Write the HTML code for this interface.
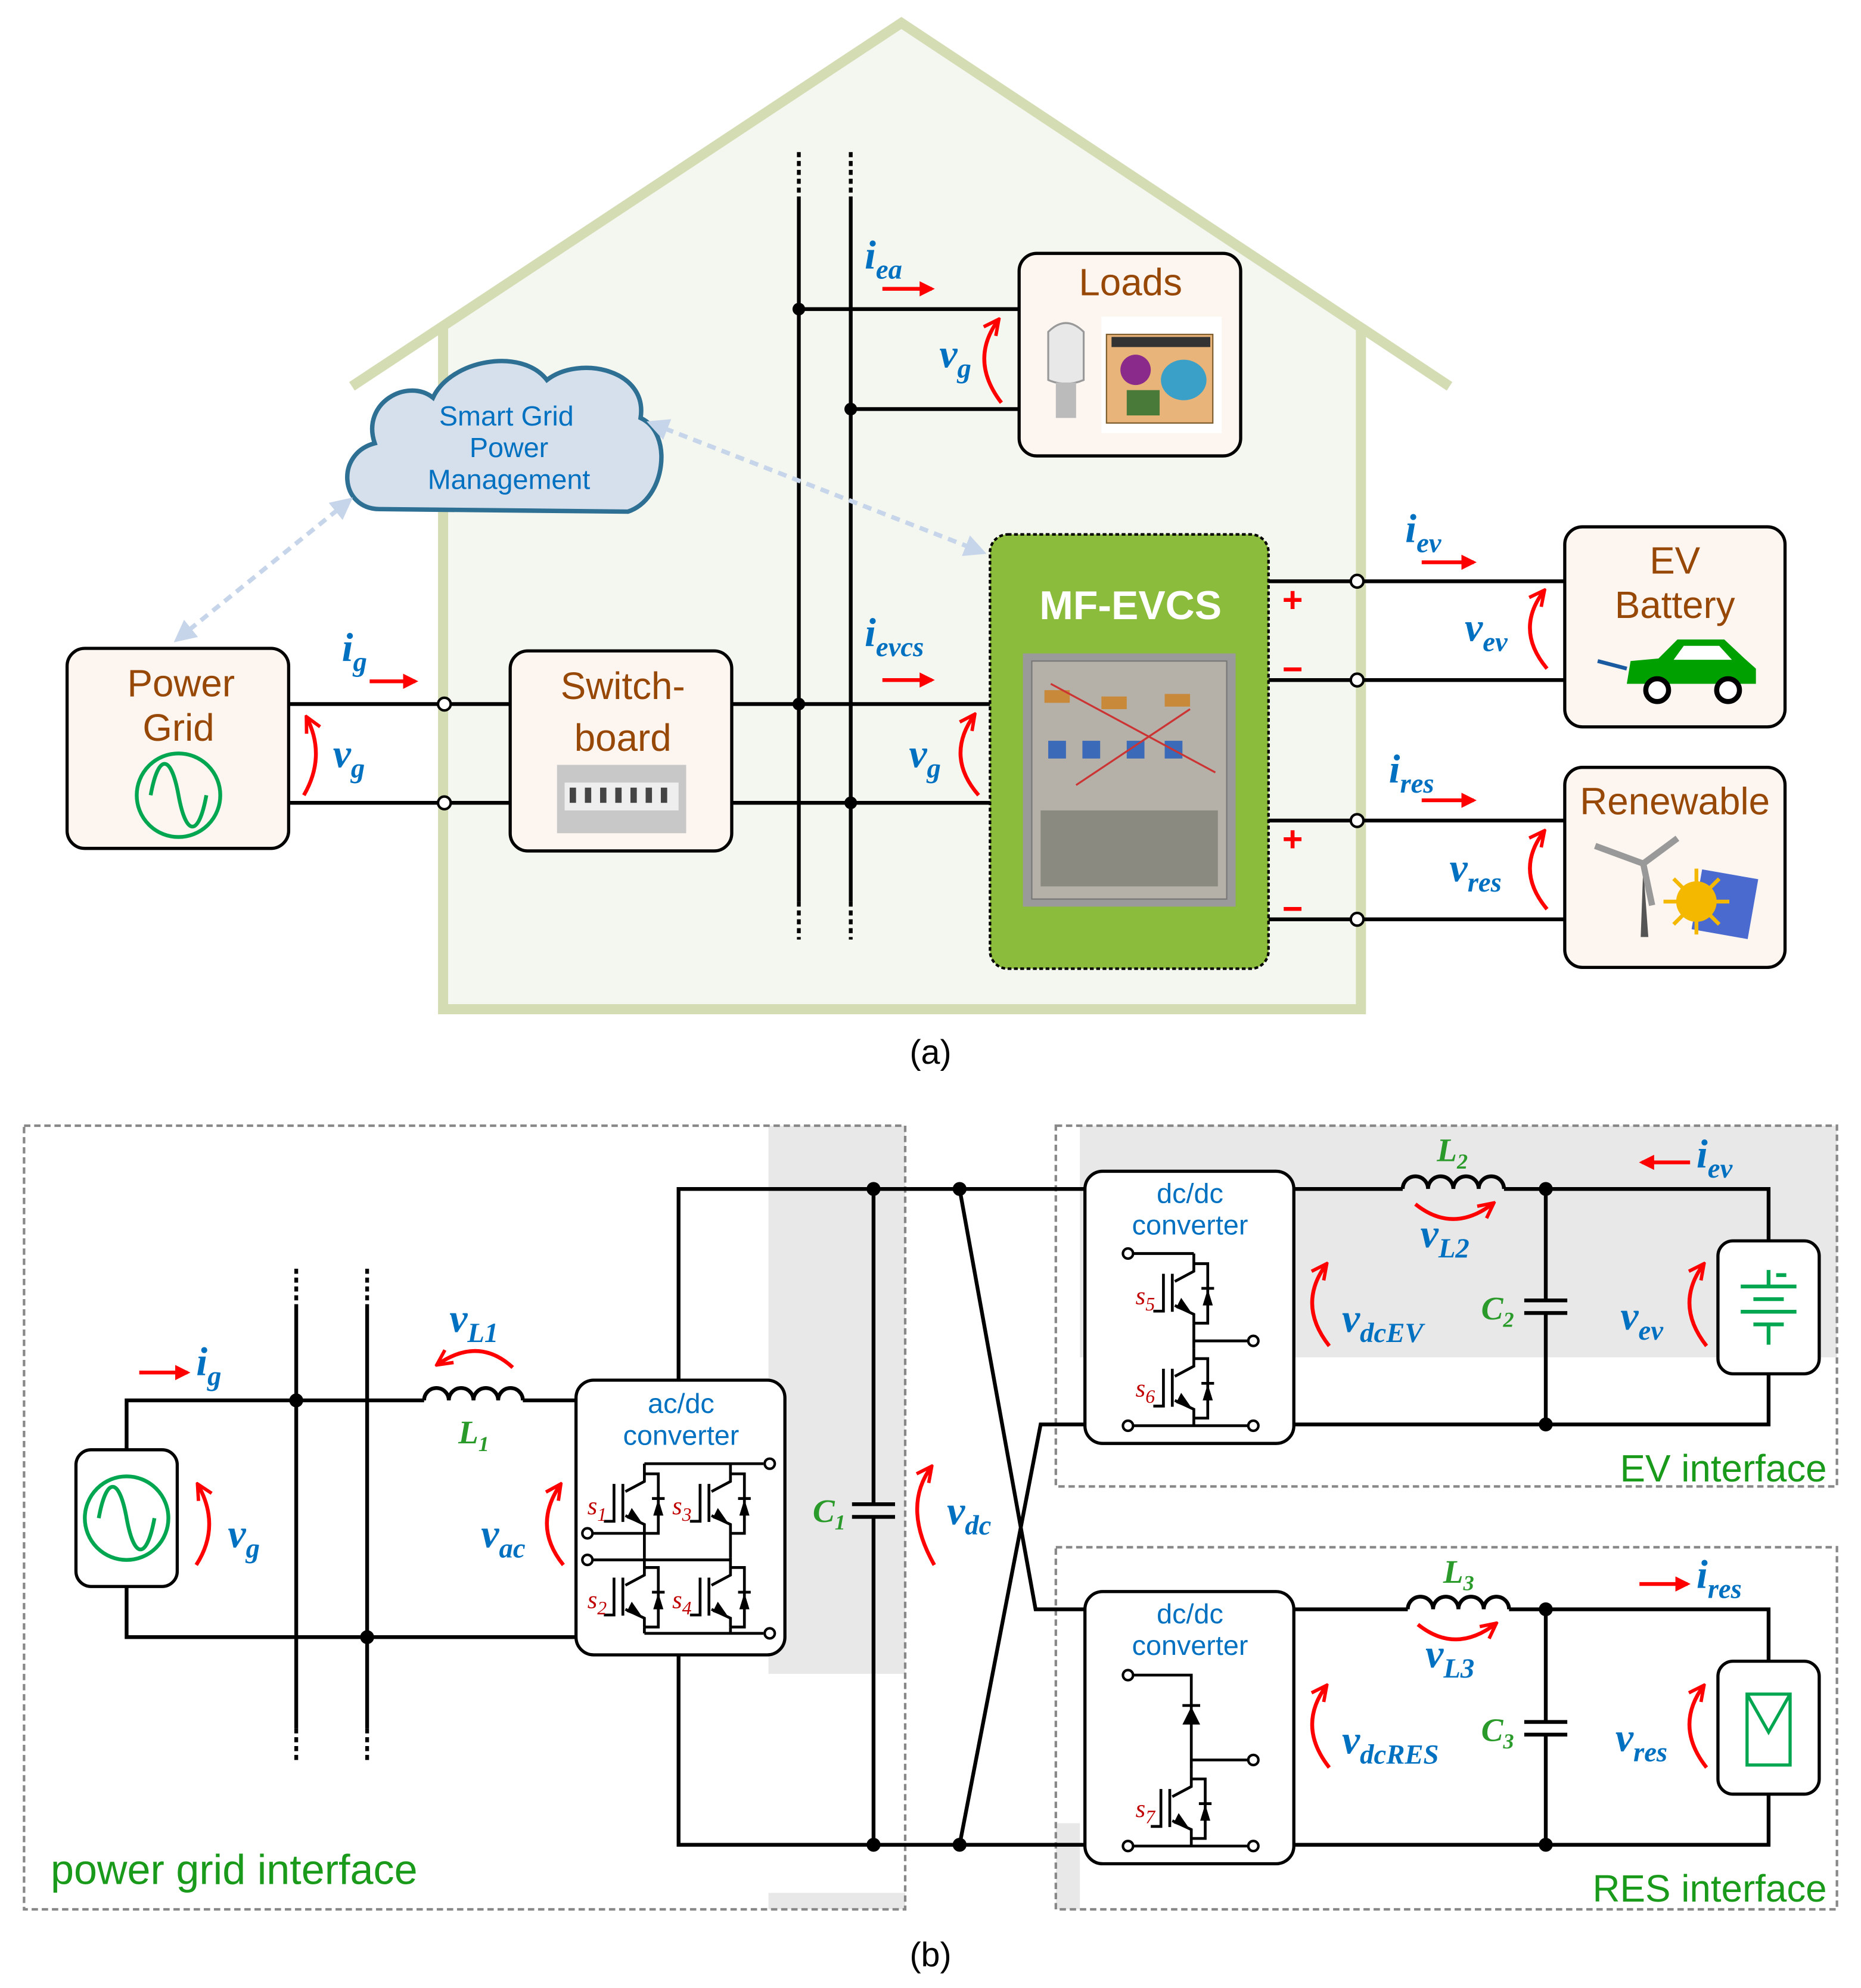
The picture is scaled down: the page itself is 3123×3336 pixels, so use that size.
<!DOCTYPE html>
<html><head><meta charset="utf-8"><style>
html,body{margin:0;padding:0;background:#fff}
svg{display:block}
.t{font-family:"Liberation Sans",sans-serif}
.m{font-family:"Liberation Serif",serif;font-weight:bold;font-style:italic;fill:#0070c0;font-size:32px}
.s{font-size:22px}
.br{fill:#974806;font-size:30px;text-anchor:middle}
.bl{fill:#0070c0;font-size:22px;text-anchor:middle}
.gn{font-family:"Liberation Serif",serif;font-weight:bold;font-style:italic;fill:#2a9a2a;font-size:26px}
.sw{font-family:"Liberation Serif",serif;font-style:italic;fill:#c00000;font-size:20px}
</style></head><body>
<svg width="3123" height="3336" viewBox="0 0 1470 1570" xmlns="http://www.w3.org/2000/svg">
<defs>
<marker id="ar" viewBox="0 0 10 10" refX="8" refY="5" markerWidth="4" markerHeight="4" orient="auto"><path d="M0,0 L10,5 L0,10 Z" fill="#f00"/></marker>
<marker id="av" viewBox="0 0 10 10" refX="9" refY="5" markerWidth="5" markerHeight="5" orient="auto"><path d="M1,1 L9,5 L1,9" fill="none" stroke="#f00" stroke-width="1.8"/></marker>
<marker id="lb" viewBox="0 0 10 10" refX="8" refY="5" markerWidth="5" markerHeight="5" orient="auto-start-reverse"><path d="M0,0 L10,5 L0,10 Z" fill="#c7d5ea"/></marker>
<g id="igbt">
<path d="M0,0 V14 L-15,22 M-17,16 V46 M-24,16 V45.5 H-32 M-15,41 L0,48 V55 M0,8 H11 V55 H0" stroke="#000" stroke-width="2.2" fill="none"/>
<path d="M-14,43 L-10,35 L-1,48 Z" fill="#000"/>
<path d="M7,41 H15 L11,28 Z" fill="#000"/>
<path d="M6,27.5 H16" stroke="#000" stroke-width="2.2"/>
</g>
</defs>

<!-- ================= (a) ================= -->
<polygon points="350,257 712,18 1075,257 1075,797 350,797" fill="#f4f7ef"/>
<polyline points="278,305 712,18 1145,305" fill="none" stroke="#d4dcb4" stroke-width="8"/>
<polyline points="350,257 350,797 1075,797 1075,257" fill="none" stroke="#d4dcb4" stroke-width="8"/>

<g stroke="#000" stroke-width="3">
<line x1="631" y1="155" x2="631" y2="712"/><line x1="672" y1="155" x2="672" y2="712"/>
<line x1="631" y1="120" x2="631" y2="155" stroke-dasharray="4,3"/><line x1="672" y1="120" x2="672" y2="155" stroke-dasharray="4,3"/>
<line x1="631" y1="712" x2="631" y2="742" stroke-dasharray="4,3"/><line x1="672" y1="712" x2="672" y2="742" stroke-dasharray="4,3"/>
<line x1="631" y1="244" x2="805" y2="244"/><line x1="672" y1="323" x2="805" y2="323"/>
<line x1="228" y1="556" x2="403" y2="556"/><line x1="228" y1="634" x2="403" y2="634"/>
<line x1="578" y1="556" x2="782" y2="556"/><line x1="578" y1="634" x2="782" y2="634"/>
<line x1="1002" y1="459" x2="1236" y2="459"/><line x1="1002" y1="537" x2="1236" y2="537"/>
<line x1="1002" y1="648" x2="1236" y2="648"/><line x1="1002" y1="726" x2="1236" y2="726"/>
</g>
<g fill="#000"><circle cx="631" cy="244" r="5"/><circle cx="672" cy="323" r="5"/><circle cx="631" cy="556" r="5"/><circle cx="672" cy="634" r="5"/></g>
<g fill="#fff" stroke="#000" stroke-width="2"><circle cx="351" cy="556" r="5"/><circle cx="351" cy="634" r="5"/>
<circle cx="1072" cy="459" r="5"/><circle cx="1072" cy="537" r="5"/><circle cx="1072" cy="648" r="5"/><circle cx="1072" cy="726" r="5"/></g>

<rect x="805" y="200" width="175" height="160" rx="14" fill="#fdf6f0" stroke="#000" stroke-width="2.5"/>
<text x="893" y="233" class="t br">Loads</text>
<path d="M828,262 Q842,248 856,262 L856,300 Q842,306 828,300 Z" fill="#e8e8e8" stroke="#999" stroke-width="1.5"/>
<rect x="834" y="302" width="16" height="28" fill="#bbb"/>
<rect x="870" y="250" width="95" height="92" fill="#fff"/>
<rect x="874" y="264" width="84" height="70" fill="#e8b47a" stroke="#7a5a2a"/>
<rect x="878" y="266" width="78" height="8" fill="#333"/>
<circle cx="897" cy="292" r="12" fill="#8a2a8a"/>
<ellipse cx="935" cy="300" rx="18" ry="16" fill="#3aa0c8"/>
<rect x="890" y="308" width="26" height="20" fill="#4a7a3a"/>

<path d="M300,402 C268,402 265,358 296,350 C285,318 322,298 342,314 C356,284 412,274 432,300 C458,280 512,292 506,330 C532,342 526,394 496,404 Z" fill="#d5e0ec" stroke="#2e6f94" stroke-width="3.5"/>
<text x="400" y="336" class="t bl">Smart Grid</text>
<text x="402" y="361" class="t bl">Power</text>
<text x="402" y="386" class="t bl">Management</text>
<line x1="140" y1="505" x2="276" y2="395" stroke="#c7d5ea" stroke-width="3.5" stroke-dasharray="7,5" marker-start="url(#lb)" marker-end="url(#lb)"/>
<line x1="514" y1="334" x2="776" y2="436" stroke="#c7d5ea" stroke-width="3.5" stroke-dasharray="7,5" marker-start="url(#lb)" marker-end="url(#lb)"/>

<rect x="53" y="512" width="175" height="158" rx="14" fill="#fdf6f0" stroke="#000" stroke-width="2.5"/>
<text x="143" y="550" class="t br">Power</text>
<text x="141" y="585" class="t br">Grid</text>
<circle cx="141" cy="628" r="33" fill="none" stroke="#00a650" stroke-width="3"/>
<path d="M119,628 C125,595 135,595 141,628 C147,661 157,661 163,628" fill="none" stroke="#00a650" stroke-width="3"/>

<rect x="403" y="514" width="175" height="158" rx="14" fill="#fdf6f0" stroke="#000" stroke-width="2.5"/>
<text x="492" y="552" class="t br">Switch-</text>
<text x="492" y="593" class="t br">board</text>
<rect x="440" y="604" width="102" height="54" fill="#c8c8c8"/>
<rect x="446" y="618" width="90" height="22" fill="#eee"/>
<g fill="#444"><rect x="450" y="622" width="5" height="12"/><rect x="462" y="622" width="5" height="12"/><rect x="474" y="622" width="5" height="12"/><rect x="486" y="622" width="5" height="12"/><rect x="498" y="622" width="5" height="12"/><rect x="510" y="622" width="5" height="12"/><rect x="522" y="622" width="5" height="12"/></g>

<rect x="782" y="422" width="220" height="343" rx="14" fill="#8cbc3b" stroke="#000" stroke-width="2" stroke-dasharray="3,2"/>
<text x="893" y="489" class="t" style="font-size:32px;font-weight:bold;fill:#fff;text-anchor:middle">MF-EVCS</text>
<rect x="808" y="516" width="168" height="200" fill="#9a9a9a"/>
<rect x="815" y="522" width="154" height="188" fill="#b5b0a8" stroke="#777"/>
<g fill="#3a6ab8"><rect x="828" y="585" width="14" height="14"/><rect x="855" y="585" width="14" height="14"/><rect x="890" y="585" width="14" height="14"/><rect x="920" y="585" width="14" height="14"/></g>
<g fill="#c88a3a"><rect x="825" y="545" width="20" height="10"/><rect x="870" y="550" width="20" height="10"/><rect x="920" y="548" width="20" height="10"/></g>
<rect x="822" y="640" width="140" height="60" fill="#8a8a80"/>
<path d="M830,540 L960,610 M850,620 L940,560" stroke="#c33" stroke-width="1.5"/>

<rect x="1236" y="416" width="174" height="158" rx="14" fill="#fdf6f0" stroke="#000" stroke-width="2.5"/>
<text x="1323" y="453" class="t br">EV</text>
<text x="1323" y="488" class="t br">Battery</text>
<path d="M1285,540 L1288,522 L1310,520 L1325,505 L1362,505 L1378,520 L1387,528 L1387,540 Z" fill="#00a000"/>
<path d="M1330,510 L1358,510 L1368,521 L1322,521 Z" fill="#fff"/>
<circle cx="1309" cy="545" r="9" fill="#fff" stroke="#000" stroke-width="4"/>
<circle cx="1365" cy="545" r="9" fill="#fff" stroke="#000" stroke-width="4"/>
<path d="M1262,522 L1285,528" stroke="#1a5aa0" stroke-width="3"/>

<rect x="1236" y="606" width="174" height="158" rx="14" fill="#fdf6f0" stroke="#000" stroke-width="2.5"/>
<text x="1323" y="643" class="t br">Renewable</text>
<path d="M1298,685 L1296,740 L1302,740 Z" fill="#555"/>
<path d="M1298,682 L1260,668 M1298,682 L1305,715 M1298,682 L1325,662" stroke="#999" stroke-width="5"/>
<rect x="1340" y="690" width="45" height="48" fill="#4a6ad0" transform="rotate(10 1362 714)"/>
<circle cx="1340" cy="712" r="16" fill="#f5b800"/>
<g stroke="#f5b800" stroke-width="3"><line x1="1340" y1="686" x2="1340" y2="738"/><line x1="1314" y1="712" x2="1366" y2="712"/><line x1="1322" y1="694" x2="1358" y2="730"/><line x1="1358" y1="694" x2="1322" y2="730"/></g>

<g class="t" style="fill:#f00;font-size:28px;font-weight:bold;text-anchor:middle">
<text x="1021" y="483">+</text><text x="1021" y="538">−</text><text x="1021" y="672">+</text><text x="1021" y="727">−</text></g>

<g stroke="#f00" stroke-width="3" fill="none">
<line x1="697" y1="228" x2="736" y2="228" marker-end="url(#ar)"/>
<line x1="292" y1="538" x2="328" y2="538" marker-end="url(#ar)"/>
<line x1="697" y1="537" x2="736" y2="537" marker-end="url(#ar)"/>
<line x1="1123" y1="444" x2="1164" y2="444" marker-end="url(#ar)"/>
<line x1="1123" y1="632" x2="1164" y2="632" marker-end="url(#ar)"/>
<path d="M791,318 Q765,284 789,252" marker-end="url(#av)"/>
<path d="M240,628 Q258,597 242,566" marker-end="url(#av)"/>
<path d="M773,628 Q746,597 770,564" marker-end="url(#av)"/>
<path d="M1222,528 Q1196,497 1220,466" marker-end="url(#av)"/>
<path d="M1222,718 Q1196,687 1220,656" marker-end="url(#av)"/>
</g>
<text x="683" y="212" class="m">i<tspan class="s" dy="8">ea</tspan></text>
<text x="742" y="290" class="m">v<tspan class="s" dy="8">g</tspan></text>
<text x="270" y="522" class="m">i<tspan class="s" dy="8">g</tspan></text>
<text x="263" y="606" class="m">v<tspan class="s" dy="8">g</tspan></text>
<text x="683" y="510" class="m">i<tspan class="s" dy="8">evcs</tspan></text>
<text x="718" y="606" class="m">v<tspan class="s" dy="8">g</tspan></text>
<text x="1110" y="428" class="m">i<tspan class="s" dy="8">ev</tspan></text>
<text x="1157" y="506" class="m">v<tspan class="s" dy="8">ev</tspan></text>
<text x="1097" y="618" class="m">i<tspan class="s" dy="8">res</tspan></text>
<text x="1145" y="696" class="m">v<tspan class="s" dy="8">res</tspan></text>
<text x="735" y="840" class="t" style="font-size:27px;text-anchor:middle">(a)</text>

<!-- ================= (b) ================= -->
<rect x="607" y="889" width="108" height="433" fill="#e8e8e8"/>
<rect x="607" y="1495" width="108" height="13" fill="#e8e8e8"/>
<rect x="853" y="889" width="598" height="183" fill="#e8e8e8"/>
<rect x="834" y="1440" width="19" height="68" fill="#e8e8e8"/>
<g fill="none" stroke="#888" stroke-width="2" stroke-dasharray="5,3">
<rect x="19" y="889" width="696" height="619"/>
<rect x="834" y="889" width="617" height="285"/>
<rect x="834" y="1222" width="617" height="286"/>
</g>

<g stroke="#000" stroke-width="3" fill="none">
<path d="M100,1145 V1106 H335 M413,1106 H455 M100,1253 V1293 H455"/>
<path d="M335,1106 a9.75,9.75 0 0 1 19.5,0 a9.75,9.75 0 0 1 19.5,0 a9.75,9.75 0 0 1 19.5,0 a9.75,9.75 0 0 1 19.5,0"/>
<line x1="234" y1="1030" x2="234" y2="1365"/><line x1="290" y1="1030" x2="290" y2="1365"/>
<line x1="234" y1="1002" x2="234" y2="1030" stroke-dasharray="4,3"/><line x1="290" y1="1002" x2="290" y2="1030" stroke-dasharray="4,3"/>
<line x1="234" y1="1365" x2="234" y2="1392" stroke-dasharray="4,3"/><line x1="290" y1="1365" x2="290" y2="1392" stroke-dasharray="4,3"/>
<path d="M536,1090 V939 H857 M536,1307 V1457 H857"/>
<path d="M690,939 V1188 M690,1198 V1457 M673,1188 H707 M673,1198 H707"/>
<path d="M758,939 L818,1271 H857 M758,1457 L822,1125 H857"/>
<path d="M1022,939 H1108 M1188,939 H1397 V980 M1397,1085 V1125 H1022"/>
<path d="M1108,939 a10,10 0 0 1 20,0 a10,10 0 0 1 20,0 a10,10 0 0 1 20,0 a10,10 0 0 1 20,0"/>
<path d="M1221,939 V1027 M1221,1037 V1125 M1204,1027 H1238 M1204,1037 H1238"/>
<path d="M1022,1271 H1112 M1192,1271 H1397 V1312 M1397,1417 V1457 H1022"/>
<path d="M1112,1271 a10,10 0 0 1 20,0 a10,10 0 0 1 20,0 a10,10 0 0 1 20,0 a10,10 0 0 1 20,0"/>
<path d="M1221,1271 V1360 M1221,1370 V1457 M1204,1360 H1238 M1204,1370 H1238"/>
</g>
<g fill="#000">
<circle cx="234" cy="1106" r="5.5"/><circle cx="290" cy="1293" r="5.5"/>
<circle cx="690" cy="939" r="5.5"/><circle cx="690" cy="1457" r="5.5"/>
<circle cx="758" cy="939" r="5.5"/><circle cx="758" cy="1457" r="5.5"/>
<circle cx="1221" cy="939" r="5.5"/><circle cx="1221" cy="1125" r="5.5"/>
<circle cx="1221" cy="1271" r="5.5"/><circle cx="1221" cy="1457" r="5.5"/>
</g>

<rect x="60" y="1145" width="80" height="108" rx="12" fill="#fff" stroke="#000" stroke-width="2.5"/>
<circle cx="100" cy="1199" r="33" fill="none" stroke="#00a650" stroke-width="3"/>
<path d="M78,1199 C84,1166 94,1166 100,1199 C106,1232 116,1232 122,1199" fill="none" stroke="#00a650" stroke-width="3"/>

<rect x="455" y="1090" width="165" height="217" rx="14" fill="#fff" stroke="#000" stroke-width="2.5"/>
<text x="538" y="1116" class="t bl">ac/dc</text>
<text x="538" y="1141" class="t bl">converter</text>
<use href="#igbt" x="509" y="1156"/><use href="#igbt" x="577" y="1156"/>
<use href="#igbt" x="509" y="1230"/><use href="#igbt" x="577" y="1230"/>
<g stroke="#000" stroke-width="2.2" fill="none">
<path d="M509,1156 H603 M509,1211 V1230 M577,1211 V1230 M468,1211 H509 M468,1232 H577 M509,1285 V1290 M577,1285 V1290 M509,1290 H603"/>
</g>
<g fill="#fff" stroke="#000" stroke-width="2"><circle cx="608" cy="1156" r="4"/><circle cx="608" cy="1290" r="4"/><circle cx="464" cy="1211" r="4"/><circle cx="464" cy="1232" r="4"/></g>
<text x="464" y="1196" class="sw">s<tspan font-size="15" dy="5">1</tspan></text>
<text x="531" y="1196" class="sw">s<tspan font-size="15" dy="5">3</tspan></text>
<text x="464" y="1270" class="sw">s<tspan font-size="15" dy="5">2</tspan></text>
<text x="531" y="1270" class="sw">s<tspan font-size="15" dy="5">4</tspan></text>

<rect x="857" y="925" width="165" height="215" rx="14" fill="#fff" stroke="#000" stroke-width="2.5"/>
<text x="940" y="950" class="t bl">dc/dc</text>
<text x="940" y="975" class="t bl">converter</text>
<use href="#igbt" x="943" y="990"/><use href="#igbt" x="943" y="1065"/>
<g stroke="#000" stroke-width="2.2" fill="none"><path d="M895,990 H943 M943,1045 V1065 M943,1059 H986 M943,1120 V1126 M895,1126 H986"/></g>
<g fill="#fff" stroke="#000" stroke-width="2"><circle cx="891" cy="990" r="4"/><circle cx="990" cy="1059" r="4"/><circle cx="891" cy="1126" r="4"/><circle cx="990" cy="1126" r="4"/></g>
<text x="897" y="1030" class="sw">s<tspan font-size="15" dy="5">5</tspan></text>
<text x="897" y="1103" class="sw">s<tspan font-size="15" dy="5">6</tspan></text>

<rect x="857" y="1257" width="165" height="215" rx="14" fill="#fff" stroke="#000" stroke-width="2.5"/>
<text x="940" y="1282" class="t bl">dc/dc</text>
<text x="940" y="1307" class="t bl">converter</text>
<use href="#igbt" x="941" y="1397"/>
<g stroke="#000" stroke-width="2.2" fill="none"><path d="M895,1323 H941 V1397 M941,1390 H986 M941,1452 V1458 M895,1458 H986 M934,1347 H948"/></g>
<path d="M934,1362 H948 L941,1348 Z" fill="#000"/>
<g fill="#fff" stroke="#000" stroke-width="2"><circle cx="891" cy="1323" r="4"/><circle cx="990" cy="1390" r="4"/><circle cx="891" cy="1458" r="4"/><circle cx="990" cy="1458" r="4"/></g>
<text x="897" y="1435" class="sw">s<tspan font-size="15" dy="5">7</tspan></text>

<rect x="1357" y="980" width="80" height="105" rx="12" fill="#fff" stroke="#000" stroke-width="2.5"/>
<g stroke="#00a650" stroke-width="3"><path d="M1397,1003 V1016 M1375,1016 H1419 M1385,1026 H1409 M1375,1036 H1419 M1385,1046 H1409 M1397,1046 V1062 M1403,1007 H1411"/></g>
<rect x="1357" y="1312" width="80" height="105" rx="12" fill="#fff" stroke="#000" stroke-width="2.5"/>
<rect x="1380" y="1338" width="34" height="56" fill="none" stroke="#00a650" stroke-width="2.5"/>
<path d="M1380,1338 L1397,1368 L1414,1338" fill="none" stroke="#00a650" stroke-width="2.5"/>

<g stroke="#f00" stroke-width="3" fill="none">
<line x1="110" y1="1084" x2="148" y2="1084" marker-end="url(#ar)"/>
<line x1="1335" y1="918" x2="1297" y2="918" marker-end="url(#ar)"/>
<line x1="1295" y1="1251" x2="1333" y2="1251" marker-end="url(#ar)"/>
<path d="M405,1080 Q378,1055 345,1078" marker-end="url(#av)"/>
<path d="M1118,951 Q1148,975 1180,950" marker-end="url(#av)"/>
<path d="M1120,1283 Q1150,1307 1182,1282" marker-end="url(#av)"/>
<path d="M155,1236 Q175,1205 156,1172" marker-end="url(#av)"/>
<path d="M445,1236 Q420,1205 443,1172" marker-end="url(#av)"/>
<path d="M738,1236 Q712,1190 736,1158" marker-end="url(#av)"/>
<path d="M1050,1063 Q1024,1030 1048,998" marker-end="url(#av)"/>
<path d="M1348,1063 Q1322,1030 1346,998" marker-end="url(#av)"/>
<path d="M1050,1396 Q1024,1363 1048,1331" marker-end="url(#av)"/>
<path d="M1348,1396 Q1322,1363 1346,1331" marker-end="url(#av)"/>
</g>
<text x="155" y="1086" class="m">i<tspan class="s" dy="8">g</tspan></text>
<text x="355" y="1052" class="m">v<tspan class="s" dy="8">L1</tspan></text>
<text x="362" y="1140" class="gn">L<tspan font-size="17" dy="6">1</tspan></text>
<text x="180" y="1222" class="m">v<tspan class="s" dy="8">g</tspan></text>
<text x="380" y="1222" class="m">v<tspan class="s" dy="8">ac</tspan></text>
<text x="642" y="1202" class="gn">C<tspan font-size="17" dy="6">1</tspan></text>
<text x="748" y="1204" class="m">v<tspan class="s" dy="8">dc</tspan></text>
<text x="1135" y="917" class="gn">L<tspan font-size="17" dy="6">2</tspan></text>
<text x="1122" y="985" class="m">v<tspan class="s" dy="8">L2</tspan></text>
<text x="1340" y="922" class="m">i<tspan class="s" dy="8">ev</tspan></text>
<text x="1060" y="1052" class="m">v<tspan class="s" dy="8">dcEV</tspan></text>
<text x="1170" y="1042" class="gn">C<tspan font-size="17" dy="6">2</tspan></text>
<text x="1280" y="1050" class="m">v<tspan class="s" dy="8">ev</tspan></text>
<text x="1140" y="1250" class="gn">L<tspan font-size="17" dy="6">3</tspan></text>
<text x="1126" y="1317" class="m">v<tspan class="s" dy="8">L3</tspan></text>
<text x="1340" y="1254" class="m">i<tspan class="s" dy="8">res</tspan></text>
<text x="1060" y="1385" class="m">v<tspan class="s" dy="8">dcRES</tspan></text>
<text x="1170" y="1375" class="gn">C<tspan font-size="17" dy="6">3</tspan></text>
<text x="1276" y="1383" class="m">v<tspan class="s" dy="8">res</tspan></text>

<g class="t" style="fill:#1a9a1a;font-size:30px">
<text x="1443" y="1170" text-anchor="end">EV interface</text>
<text x="1443" y="1502" text-anchor="end">RES interface</text>
<text x="40" y="1488" style="font-size:33px">power grid interface</text>
</g>
<text x="735" y="1553" class="t" style="font-size:27px;text-anchor:middle">(b)</text>
</svg>
</body></html>
